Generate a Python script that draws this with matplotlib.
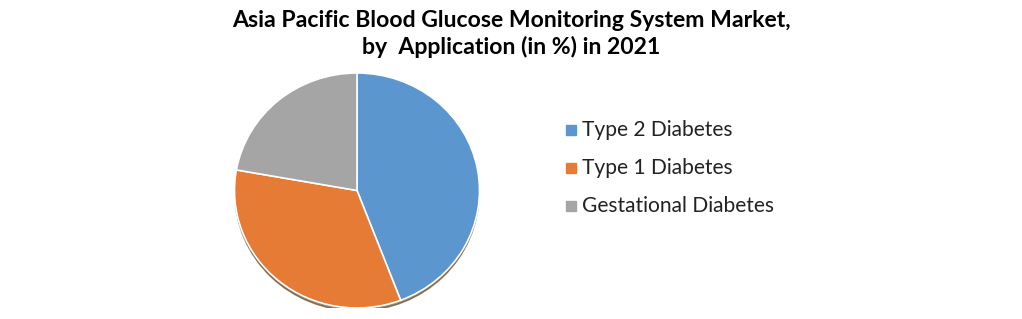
import matplotlib.pyplot as plt
from matplotlib.patches import Ellipse

labels = ["Type 2 Diabetes", "Type 1 Diabetes", "Gestational Diabetes"]
shares = [44.2, 33.6, 22.2]
colors = ["#5B97CE", "#E67B35", "#A5A5A5"]

title = "Asia Pacific Blood Glucose Monitoring System Market,\nby  Application (in %) in 2021"

W, H = 1022, 319
fig = plt.figure(figsize=(W / 100, H / 100), dpi=100)

# pie axes placed in pixel coords (slightly squashed vertically like the source)
cx, cy, rx, ry = 357, 190.5, 122.5, 117.5
ax = fig.add_axes([(cx - rx) / W, 1 - (cy + ry) / H, 2 * rx / W, 2 * ry / H])

# shadow peeking out under the bottom edge
ax.add_patch(Ellipse((0.0, -0.03), 1.99, 1.99, color="#5a3a1a", alpha=0.6, zorder=0))

wedges, _ = ax.pie(shares, colors=colors, startangle=90, counterclock=False,
                   radius=1.0, wedgeprops=dict(edgecolor="white", linewidth=1.2))
for w in wedges:
    w.set_zorder(2)
ax.set_xlim(-1, 1)
ax.set_ylim(-1, 1)
ax.set_aspect("auto")
ax.axis("off")

fig.text(0.5, 1 - 34 / H, title, ha="center", va="center", fontsize=16.6,
         fontweight="bold", family=["Lato", "DejaVu Sans"], linespacing=1.25)

rows = [130, 168, 206]
for lab, col, y in zip(labels, colors, rows):
    fig.patches.append(plt.Rectangle((566 / W, 1 - (y + 5) / H), 10 / W, 10 / H,
                                     transform=fig.transFigure, color=col, figure=fig))
    fig.text(582 / W, 1 - y / H, lab, ha="left", va="center", fontsize=15.1,
             family=["Lato", "DejaVu Sans"], color="#222222")

fig.savefig("out.png", dpi=100)
